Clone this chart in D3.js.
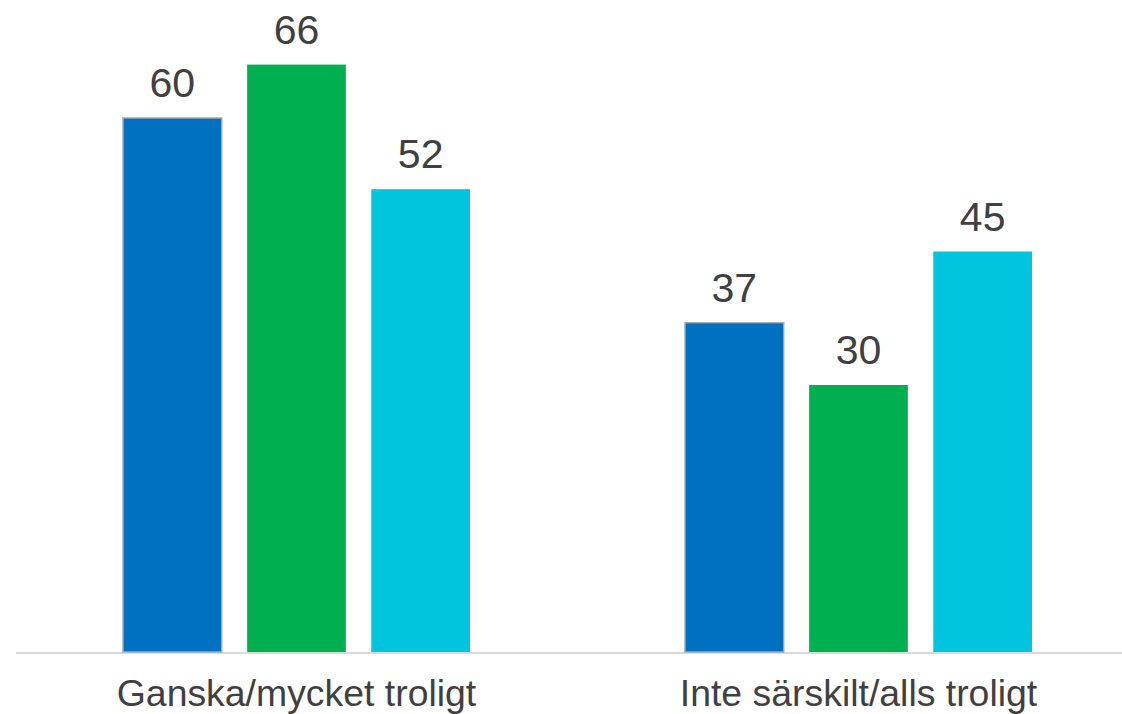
<!DOCTYPE html>
<html><head><meta charset="utf-8">
<script src="https://cdn.jsdelivr.net/npm/d3@7"></script>
<style>body{margin:0;background:#fff}svg{display:block}</style>
</head><body>
<svg id="c" width="1122" height="714"></svg>
<script>
const categories = ["Ganska/mycket troligt", "Inte särskilt/alls troligt"];
const seriesNames = ["Serie 1", "Serie 2", "Serie 3"];
const series1 = [60, 37];
const series2 = [66, 30];
const series3 = [52, 45];
const colors = ["#0070C0", "#00B050", "#00C4DE"];

const svg = d3.select("#c");
const baseY = 652;
const y = d3.scaleLinear().domain([0, 66]).range([baseY, baseY - 66 * 8.9]);
const x0 = d3.scaleBand().domain(categories).range([15.5, 1139.5]).padding(0);
const x1 = d3.scaleBand().domain(seriesNames).range([0, 347]).paddingInner(0.205).paddingOuter(0);
const data = categories.map((c, i) => ({cat: c, vals: [series1[i], series2[i], series3[i]]}));

svg.append("line").attr("x1", 16).attr("x2", 1122).attr("y1", baseY + 1).attr("y2", baseY + 1)
  .attr("stroke", "#d9d9d9").attr("stroke-width", 2);

const g = svg.selectAll("g.grp").data(data).join("g")
  .attr("transform", d => `translate(${x0(d.cat) + x0.bandwidth() / 2 - 347 / 2},0)`);

g.selectAll("rect").data(d => d.vals.map((v, j) => ({v, j}))).join("rect")
  .attr("x", d => x1(seriesNames[d.j]))
  .attr("y", d => y(d.v))
  .attr("width", x1.bandwidth())
  .attr("height", d => baseY - y(d.v))
  .attr("fill", d => colors[d.j])
  .attr("stroke", d => d.j === 0 ? "#a6a6a6" : "none")
  .attr("stroke-width", 1.5);

g.selectAll("text").data(d => d.vals.map((v, j) => ({v, j}))).join("text")
  .attr("x", d => x1(seriesNames[d.j]) + x1.bandwidth() / 2)
  .attr("y", d => y(d.v) - 21)
  .attr("text-anchor", "middle")
  .attr("font-family", "Liberation Sans, Arial, sans-serif")
  .attr("font-size", 41)
  .attr("fill", "#404040")
  .text(d => d.v);

svg.selectAll("text.cat").data(categories).join("text").attr("class", "cat")
  .attr("x", d => x0(d) + x0.bandwidth() / 2)
  .attr("y", 706)
  .attr("text-anchor", "middle")
  .attr("font-family", "Liberation Sans, Arial, sans-serif")
  .attr("font-size", 37.4)
  .attr("fill", "#404040")
  .text(d => d);
</script>
</body></html>
